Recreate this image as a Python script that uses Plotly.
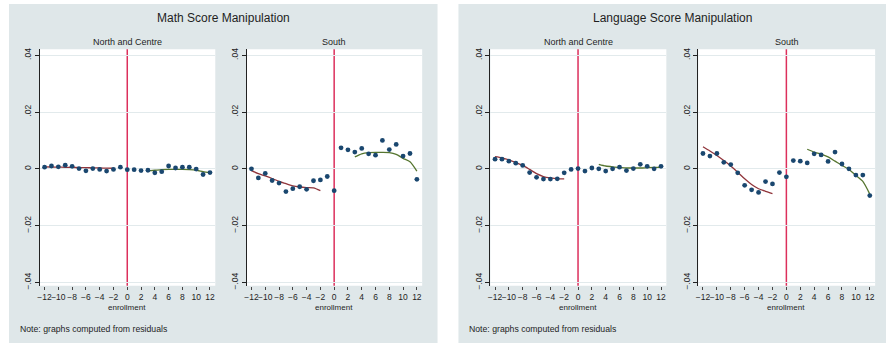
import plotly.graph_objects as go

# ---------------------------------------------------------------------------
# Data: residual score by distance from the enrollment cutoff
# ---------------------------------------------------------------------------
ENROLLMENT = list(range(-12, 13))
FIT_BELOW = list(range(-12, -1))   # local fit left of the cutoff
FIT_ABOVE = list(range(3, 13))     # local fit right of the cutoff
CUTOFF = 0

X_TICKS = list(range(-12, 13, 2))
X_TICK_LABELS = [f"\u2212{abs(v)}" if v < 0 else str(v) for v in X_TICKS]
Y_TICKS = [0.04, 0.02, 0, -0.02, -0.04]
Y_TICK_LABELS = [".04", ".02", "0", "\u2212.02", "\u2212.04"]

math_north_centre = [0.0006, 0.0010, 0.0007, 0.0013, 0.0009, 0.0001, -0.0007, 0.0001,
                     -0.0002, -0.0008, -0.0002, 0.0006, -0.0003, -0.0003, -0.0006,
                     -0.0005, -0.0014, -0.0010, 0.0010, 0.0003, 0.0006, 0.0006,
                     -0.0001, -0.0020, -0.0013]
math_north_centre_fit_below = [0.0007, 0.00065, 0.0006, 0.00055, 0.0005, 0.00045, 0.0004,
                               0.00035, 0.0003, 0.00025, 0.0002]
math_north_centre_fit_above = [-0.0007, -0.0005, -0.0003, -0.0002, -0.0002, -0.0002,
                               -0.0003, -0.0005, -0.0010, -0.0014]

math_south = [0.0000, -0.0032, -0.0016, -0.0041, -0.0050, -0.0080, -0.0070, -0.0063,
              -0.0072, -0.0042, -0.0039, -0.0027, -0.0077, 0.0074, 0.0067, 0.0059,
              0.0072, 0.0053, 0.0048, 0.0100, 0.0068, 0.0086, 0.0045, 0.0054, -0.0037]
math_south_fit_below = [-0.0006, -0.0017, -0.0025, -0.0034, -0.0044, -0.0052, -0.0060,
                        -0.0064, -0.0066, -0.0067, -0.0077]
math_south_fit_above = [0.0042, 0.0053, 0.0057, 0.0058, 0.0058, 0.0057, 0.0051, 0.0037,
                        0.0025, -0.0008]

language_north_centre = [0.0034, 0.0034, 0.0027, 0.0020, 0.0012, -0.0013, -0.0030,
                         -0.0036, -0.0036, -0.0035, -0.0014, -0.0002, 0.0001, -0.0008,
                         0.0003, 0.0000, -0.0008, 0.0000, 0.0006, -0.0006, 0.0001,
                         0.0016, 0.0009, 0.0000, 0.0009]
language_north_centre_fit_below = [0.0043, 0.0039, 0.0032, 0.0022, 0.0012, -0.0002,
                                   -0.0017, -0.0027, -0.0032, -0.0035, -0.0035]
language_north_centre_fit_above = [0.0016, 0.0010, 0.0007, 0.0005, 0.0003, 0.0003,
                                   0.0003, 0.0004, 0.0005, 0.0005]

language_south = [0.0054, 0.0045, 0.0054, 0.0023, 0.0015, -0.0014, -0.0058, -0.0074,
                  -0.0083, -0.0045, -0.0053, -0.0013, -0.0028, 0.0029, 0.0027, 0.0021,
                  0.0053, 0.0049, 0.0026, 0.0059, 0.0017, 0.0000, -0.0022, -0.0022,
                  -0.0094]
language_south_fit_below = [0.0078, 0.0063, 0.0047, 0.0029, 0.0010, -0.0012, -0.0035,
                            -0.0055, -0.0070, -0.0079, -0.0087]
language_south_fit_above = [0.0069, 0.0059, 0.0052, 0.0042, 0.0027, 0.0012, -0.0002,
                            -0.0023, -0.0044, -0.0089]

# ---------------------------------------------------------------------------
# Styling
# ---------------------------------------------------------------------------
W, H = 886, 347
FONT = "Liberation Sans, Arial, Helvetica, sans-serif"
TEXT = "#1e1e1e"
REGION_BG = "#dfe7e9"
GRID = "#e2eaec"
NAVY = "#1a476f"
MAROON = "#90353b"
FOREST = "#55752f"
CUTOFF_COLOR = "#dc2f5c"


def px_x(p):
    return p / W


def px_y(p):
    return 1 - p / H


# panels: (title, x-centre of title, region, note x, subplots)
PLOT_TOP, PLOT_BOTTOM = 49, 289
panels = [
    ("Math Score Manipulation", 221, (6, 436), 15, [
        ("North and Centre", 37.0, 213.0, math_north_centre,
         math_north_centre_fit_below, math_north_centre_fit_above),
        ("South", 244.6, 420.6, math_south, math_south_fit_below, math_south_fit_above),
    ]),
    ("Language Score Manipulation", 672, (457, 886), 466, [
        ("North and Centre", 489.0, 665.6, language_north_centre,
         language_north_centre_fit_below, language_north_centre_fit_above),
        ("South", 697.6, 875.1, language_south,
         language_south_fit_below, language_south_fit_above),
    ]),
]

X_RANGE = [-12.68, 12.77]
Y_RANGE = [-0.0412, 0.0421]

fig = go.Figure()
shapes = []
annotations = []
layout_axes = {}

idx = 0
for title, title_x, (bx0, bx1), note_x, subplots in panels:
    shapes.append(dict(type="rect", xref="paper", yref="paper", layer="below",
                       x0=px_x(bx0), x1=px_x(bx1), y0=px_y(H), y1=px_y(3),
                       fillcolor=REGION_BG, line=dict(width=0)))
    annotations.append(dict(text=title, x=px_x(title_x), y=px_y(17), xref="paper",
                            yref="paper", showarrow=False, xanchor="center",
                            yanchor="middle", font=dict(size=12, color=TEXT)))
    annotations.append(dict(text="Note: graphs computed from residuals", x=px_x(note_x),
                            y=px_y(332.5), xref="paper", yref="paper", showarrow=False,
                            xanchor="left", yanchor="middle",
                            font=dict(size=8.7, color=TEXT)))
    for sub, x0, x1, pts, fit_lo, fit_hi in subplots:
        idx += 1
        sfx = "" if idx == 1 else str(idx)
        xa, ya = "x" + sfx, "y" + sfx
        dom_x = [px_x(x0), px_x(x1)]
        dom_y = [px_y(PLOT_BOTTOM), px_y(PLOT_TOP)]

        # white plot region
        shapes.append(dict(type="rect", xref="paper", yref="paper", layer="below",
                           x0=dom_x[0], x1=dom_x[1], y0=dom_y[0], y1=dom_y[1],
                           fillcolor="white", line=dict(width=0)))
        # cutoff line
        shapes.append(dict(type="line", xref=xa, yref=ya + " domain", layer="below",
                           x0=CUTOFF, x1=CUTOFF, y0=0, y1=1,
                           line=dict(color=CUTOFF_COLOR, width=1.5)))

        fig.add_trace(go.Scatter(x=FIT_BELOW, y=fit_lo, mode="lines", xaxis=xa, yaxis=ya,
                                 line=dict(color=MAROON, width=1.3, shape="spline",
                                           smoothing=0.7), hoverinfo="skip"))
        fig.add_trace(go.Scatter(x=FIT_ABOVE, y=fit_hi, mode="lines", xaxis=xa, yaxis=ya,
                                 line=dict(color=FOREST, width=1.3, shape="spline",
                                           smoothing=0.7), hoverinfo="skip"))
        fig.add_trace(go.Scatter(x=ENROLLMENT, y=pts, mode="markers", xaxis=xa, yaxis=ya,
                                 marker=dict(color=NAVY, size=4.8, line=dict(width=0))))

        layout_axes["xaxis" + sfx] = dict(
            domain=dom_x, anchor=ya, range=X_RANGE, tickvals=X_TICKS,
            ticktext=X_TICK_LABELS, ticks="outside", ticklen=3, tickwidth=1,
            tickcolor="#444", showline=False, showgrid=False, zeroline=False,
            tickangle=0, tickfont=dict(size=8.5, color=TEXT), fixedrange=True)
        layout_axes["yaxis" + sfx] = dict(
            domain=dom_y, anchor=xa, range=Y_RANGE, tickvals=Y_TICKS,
            ticktext=Y_TICK_LABELS, ticks="outside", ticklen=4, tickwidth=1,
            tickcolor="#222", showline=True, linecolor="#222", linewidth=1,
            showgrid=True, gridcolor=GRID, gridwidth=1, zeroline=False,
            tickangle=-90, tickfont=dict(size=8.5, color=TEXT), fixedrange=True)

        annotations.append(dict(text=sub, x=(dom_x[0] + dom_x[1]) / 2, y=px_y(42),
                                xref="paper", yref="paper", showarrow=False,
                                xanchor="center", yanchor="middle",
                                font=dict(size=9, color=TEXT)))
        zero_frac = (CUTOFF - X_RANGE[0]) / (X_RANGE[1] - X_RANGE[0])
        annotations.append(dict(text="enrollment",
                                x=dom_x[0] + zero_frac * (dom_x[1] - dom_x[0]),
                                y=px_y(310.5), xref="paper", yref="paper",
                                showarrow=False, xanchor="center", yanchor="middle",
                                font=dict(size=8, color=TEXT)))

fig.update_layout(
    width=W, height=H, margin=dict(l=0, r=0, t=0, b=0),
    paper_bgcolor="white", plot_bgcolor="white", showlegend=False,
    font=dict(family=FONT, color=TEXT), shapes=shapes, annotations=annotations,
    **layout_axes,
)

fig.write_html("out.html")
